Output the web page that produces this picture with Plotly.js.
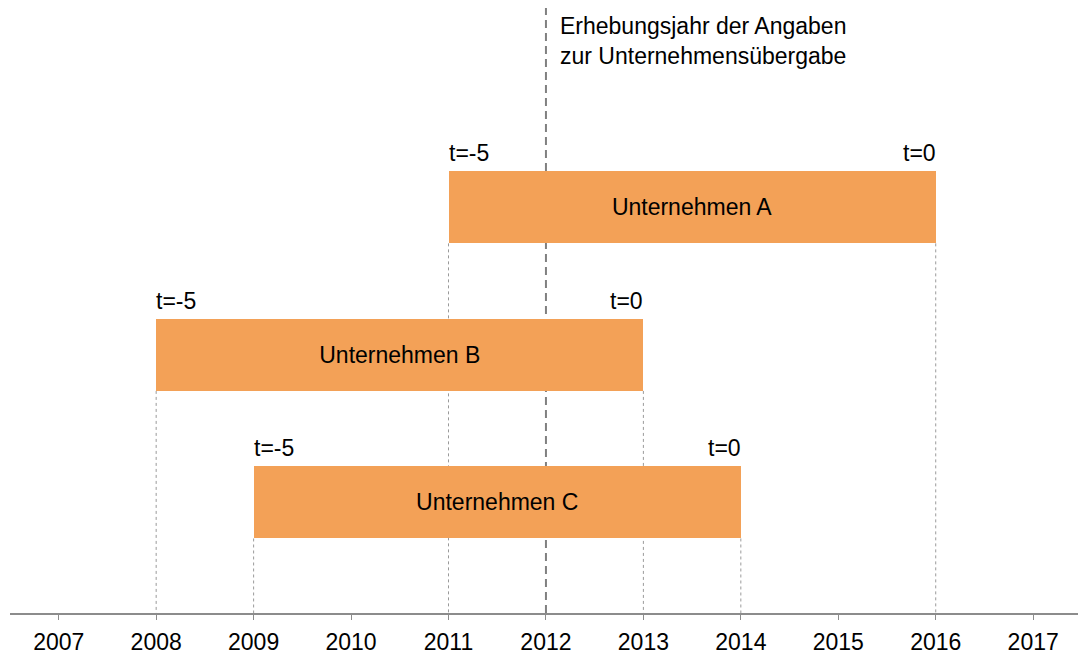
<!DOCTYPE html>
<html>
<head>
<meta charset="utf-8">
<script src="https://cdn.plot.ly/plotly-3.0.1.min.js"></script>
<style>html,body{margin:0;padding:0;background:#fff;}#chart{width:1078px;height:657px;}</style>
</head>
<body>
<div id="chart"></div>
<script>
// ---- data ----
const companies = ['Unternehmen A', 'Unternehmen B', 'Unternehmen C'];
const startYears = [2011, 2008, 2009];
const endYears = [2016, 2013, 2014];
const startLabels = ['t=-5', 't=-5', 't=-5'];
const endLabels = ['t=0', 't=0', 't=0'];
const surveyYear = 2012;
const surveyLabel = 'Erhebungsjahr der Angaben<br>zur Unternehmensübergabe';
const tickYears = [2007, 2008, 2009, 2010, 2011, 2012, 2013, 2014, 2015, 2016, 2017];

// ---- styling ----
const FONT = 'Liberation Sans, Arial, sans-serif';
const FS = 23;
const barColor = '#F3A157';
const barWidth = 0.49;
const yBottom = 2.75, yTop = -1.35;

const durations = startYears.map((s, i) => endYears[i] - s);

const trace = {
  type: 'bar',
  orientation: 'h',
  y: companies,
  x: durations,
  base: startYears,
  width: barWidth,
  marker: {color: barColor, line: {width: 0}},
  text: companies,
  textposition: 'inside',
  insidetextanchor: 'middle',
  textfont: {family: FONT, size: FS, color: '#000'},
  hoverinfo: 'skip'
};

const shapes = [];
// survey-year dashed line
shapes.push({type: 'line', layer: 'below', xref: 'x', yref: 'paper',
  x0: surveyYear, x1: surveyYear, y0: 0, y1: 1,
  line: {color: '#808080', width: 2, dash: '8px,5px'}});
// thin dotted lines from bar ends to axis
companies.forEach((c, i) => {
  [startYears[i], endYears[i]].forEach(xv => {
    shapes.push({type: 'line', layer: 'below', xref: 'x', yref: 'y',
      x0: xv, x1: xv, y0: i + barWidth / 2, y1: yBottom,
      line: {color: '#9a9a9a', width: 1, dash: '3px,3px'}});
  });
});

const annotations = [];
companies.forEach((c, i) => {
  annotations.push({xref: 'x', yref: 'y', x: startYears[i], y: i - barWidth / 2,
    text: startLabels[i], showarrow: false, xanchor: 'left', yanchor: 'bottom',
    yshift: 3, xshift: -2, font: {family: FONT, size: FS, color: '#000'}});
  annotations.push({xref: 'x', yref: 'y', x: endYears[i], y: i - barWidth / 2,
    text: endLabels[i], showarrow: false, xanchor: 'right', yanchor: 'bottom',
    yshift: 3, xshift: 2, font: {family: FONT, size: FS, color: '#000'}});
});
annotations.push({xref: 'x', yref: 'paper', x: surveyYear, y: 1,
  text: surveyLabel, showarrow: false, xanchor: 'left', yanchor: 'top', align: 'left',
  xshift: 12, yshift: -3, font: {family: FONT, size: FS, color: '#000'}});

const layout = {
  width: 1078, height: 657,
  margin: {l: 10, r: 0, t: 8, b: 44},
  paper_bgcolor: '#fff', plot_bgcolor: '#fff',
  showlegend: false,
  bargap: 0,
  xaxis: {
    range: [2006.5, 2017.46],
    tickvals: tickYears,
    ticktext: tickYears.map(String),
    showgrid: false, zeroline: false,
    showline: true, linecolor: '#8c8c8c', linewidth: 2,
    ticks: 'outside', ticklen: 5, tickcolor: '#8c8c8c', tickwidth: 1,
    ticklabelstandoff: 2,
    tickfont: {family: FONT, size: FS, color: '#000'},
    fixedrange: true
  },
  yaxis: {
    type: 'category',
    range: [yBottom, yTop],
    showticklabels: false, showgrid: false, zeroline: false, showline: false,
    ticks: '', fixedrange: true
  },
  shapes: shapes,
  annotations: annotations
};

Plotly.newPlot('chart', [trace], layout, {displayModeBar: false, staticPlot: true});
</script>
</body>
</html>
